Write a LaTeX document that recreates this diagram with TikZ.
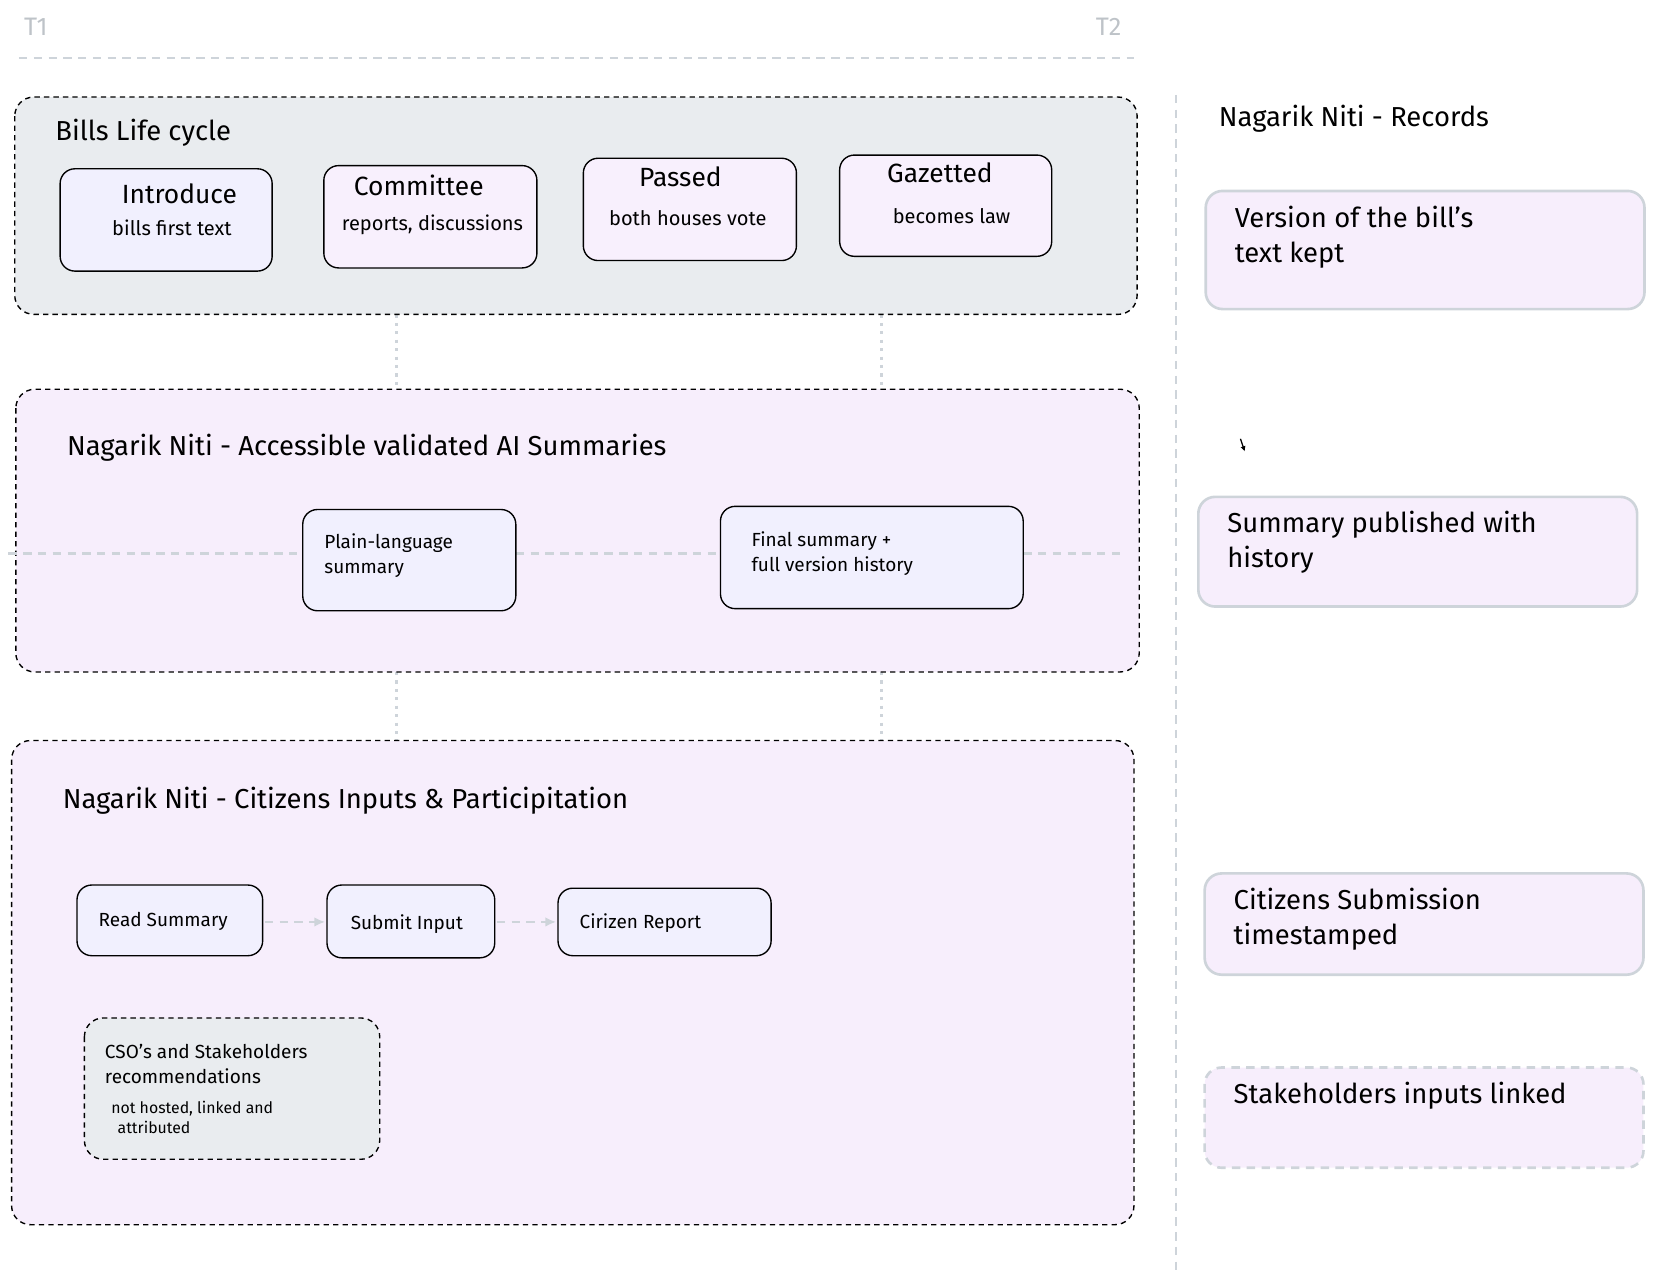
\documentclass[tikz,border=0pt]{standalone}
\usepackage{fontspec}
\setmainfont{Fira Sans}
\usetikzlibrary{arrows.meta}
\definecolor{grp}{HTML}{E9ECEF}
\definecolor{lav}{HTML}{F7EEFC}
\definecolor{blu}{HTML}{F1F0FE}
\definecolor{pnk}{HTML}{F8F0FD}
\definecolor{lg}{HTML}{CED4DA}
\tikzset{
 grpbox/.style={draw=black,dashed,line width=1.3pt,rounded corners=18pt,dash pattern=on 5pt off 4pt},
 card/.style={draw=black,line width=1.3pt,rounded corners=14pt},
 rec/.style={draw=lg,line width=2.5pt,rounded corners=16pt,fill=lav},
 guide/.style={draw=lg,line width=2.5pt,dash pattern=on 8pt off 6pt},
 dots/.style={draw=lg,line width=3pt,dash pattern=on 3pt off 5pt},
 ttl/.style={anchor=base west,font=\fontsize{26}{30}\selectfont},
 big/.style={font=\fontsize{25}{29}\selectfont},
 sub/.style={font=\fontsize{19}{23}\selectfont},
 sm/.style={font=\fontsize{18}{22}\selectfont,anchor=base west},
 rtxt/.style={anchor=base west,font=\fontsize{26}{30}\selectfont,align=left},
}
\begin{document}
\begin{tikzpicture}[x=1pt,y=-1pt]
\useasboundingbox (0,0) rectangle (1568,1213);
% guides
\coordinate (tl) at (18,55); \coordinate (tr) at (1075,55);
\draw[guide] (tl) -- (tr);
\node[text=lg!80!gray,font=\fontsize{24}{28}\selectfont] (t1) at (34,25) {T1};
\node[text=lg!80!gray,font=\fontsize{24}{28}\selectfont] (t2) at (1051,25) {T2};
\coordinate (vt) at (1115,90); \coordinate (vb) at (1115,1205);
\draw[guide] (vt) -- (vb);
% dotted connectors
\foreach \x in {376,836}{\draw[dots] (\x,298) -- (\x,370); \draw[dots] (\x,637) -- (\x,703);}
% group 1
\draw[grpbox,fill=grp] (14,92) rectangle (1078,298);
\node[ttl] (g1) at (49,133) {Bills Life cycle};
\draw[card,fill=blu] (57,160) rectangle (258,257);
\node[big] (intro) at (170,184) {Introduce};
\node[sub] at (163,216) {bills first text};
\draw[card,fill=pnk] (307,157) rectangle (509,254);
\node[big] (comm) at (397,176) {Committee};
\node[sub] at (410,213) {reports, discussions};
\draw[card,fill=pnk] (553,150) rectangle (755,247);
\node[big] (pass) at (645,168) {Passed};
\node[sub] at (652,207) {both houses vote};
\draw[card,fill=pnk] (796,147) rectangle (997,243);
\node[big] (gaz) at (891,164) {Gazetted};
\node[sub] at (902,205) {becomes law};
% group 2
\draw[grpbox,fill=lav] (15,369) rectangle (1080,637);
\node[ttl] (g2) at (60,432) {Nagarik Niti - Accessible validated AI Summaries};
\draw[guide] (8,525) -- (287,525);
\draw[guide] (489,525) -- (683,525);
\draw[guide] (970,525) -- (1065,525);
\draw[card,fill=blu] (287,483) rectangle (489,579);
\node[sm] (pl) at (304,520) {Plain-language};
\node[sm] at (304,544) {summary};
\draw[card,fill=blu] (683,480) rectangle (970,577);
\node[sm] (fs) at (709,518) {Final summary +};
\node[sm] at (709,542) {full version history};
% group 3
\draw[grpbox,fill=lav] (11,702) rectangle (1075,1161);
\node[ttl] (g3) at (56,766) {Nagarik Niti - Citizens Inputs \& Participitation};
\draw[card,fill=blu] (73,839) rectangle (249,906);
\node[sm] (rs) at (90,878) {Read Summary};
\draw[card,fill=blu] (310,839) rectangle (469,908);
\node[sm] (si) at (329,881) {Submit Input};
\draw[card,fill=blu] (529,842) rectangle (731,906);
\node[sm] (cr) at (546,880) {Cirizen Report};
\draw[guide,line width=1.5pt,-{Latex[length=10pt,width=9pt]}] (251,874) -- (308,874);
\draw[guide,line width=1.5pt,-{Latex[length=10pt,width=9pt]}] (471,874) -- (527,874);
\draw[card,dashed,fill=grp,dash pattern=on 5pt off 4pt,rounded corners=18pt] (80,965) rectangle (360,1099);
\node[sm] (cso) at (96,1003) {CSO's and Stakeholders};
\node[sm] at (96,1027) {recommendations};
\node[anchor=base west,font=\fontsize{15}{18}\selectfont] at (102,1056) {not hosted, linked and};
\node[anchor=base west,font=\fontsize{15}{18}\selectfont] at (108,1075) {attributed};
% right column
\node[ttl] (rt) at (1152,120) {Nagarik Niti - Records};
\draw[rec] (1143,181) rectangle (1559,293);
\node[rtxt] (r1) at (1167,216) {Version of the bill's};
\node[rtxt] at (1167,249) {text kept};
\draw[rec] (1136,471) rectangle (1552,575);
\node[rtxt] (r2) at (1160,505) {Summary published with};
\node[rtxt] at (1160,538) {history};
\draw[rec] (1142,828) rectangle (1558,924);
\node[rtxt] (r3) at (1166,862) {Citizens Submission};
\node[rtxt] at (1166,895) {timestamped};
\draw[rec,dash pattern=on 8pt off 6pt] (1142,1012) rectangle (1558,1107);
\node[rtxt] (r4) at (1166,1046) {Stakeholders inputs linked};
\draw[line width=1.2pt,-{Latex[length=5pt,width=5pt]}] (1176,416) -- (1180,428);
\end{tikzpicture}
\end{document}
